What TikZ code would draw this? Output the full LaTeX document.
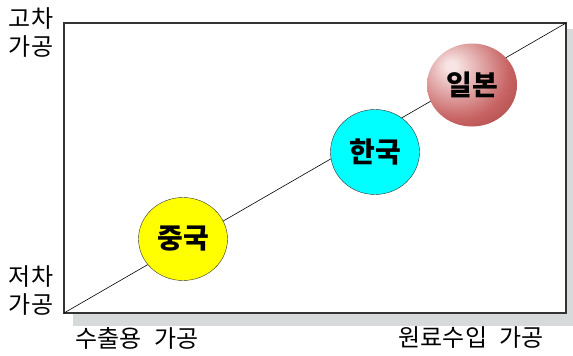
\documentclass[tikz,border=0pt]{standalone}
\usepackage{fontspec}
\newfontfamily\kr{Noto Sans CJK KR}
\usetikzlibrary{shapes.geometric, shadings}

\definecolor{shadowgray}{RGB}{215,218,218}
\definecolor{chinayellow}{RGB}{255,255,0}
\definecolor{koreacyan}{RGB}{0,255,255}
\definecolor{japanhigh}{RGB}{248,228,228}
\definecolor{japanmid}{RGB}{200,100,100}
\definecolor{japanedge}{RGB}{150,45,45}
\pgfdeclareradialshading{japanball}{\pgfpoint{-12bp}{12bp}}{%
  color(0bp)=(japanhigh); color(3bp)=(japanhigh);
  color(28bp)=(japanmid); color(52bp)=(japanedge); color(80bp)=(japanedge)}

\begin{document}
\begin{tikzpicture}[x=1pt, y=-1pt,
  country/.style = {ellipse, draw=black!80, thin, fill=#1,
                    minimum width=89pt, minimum height=83pt, inner sep=0pt,
                    font=\kr\bfseries\fontsize{28}{28}\selectfont},
  ball/.style    = {ellipse, shading=#1,
                    minimum width=90pt, minimum height=83pt, inner sep=0pt,
                    font=\kr\bfseries\fontsize{28}{28}\selectfont},
  axislbl/.style = {font=\kr\fontsize{24}{28}\selectfont,
                    align=center, inner sep=0pt},
  frame/.style   = {draw=black!80, line width=1.2pt, fill=white},
]
\useasboundingbox (0,0) rectangle (573,356);

% ── Frame with shadow ─────────────────────────────────────────────────────────
\fill[shadowgray] (73,29) rectangle (573,326);
\draw[frame] (64,23) rectangle (566,313);

% ── Diagonal ──────────────────────────────────────────────────────────────────
\coordinate (lo) at (64,313);
\coordinate (hi) at (566,23);
\draw[semithick] (lo) -- (hi);

% ── Countries ─────────────────────────────────────────────────────────────────
\node[country=chinayellow]                   (china) at (183,239) {중국};
\node[country=koreacyan, minimum height=85pt] (korea) at (375,152) {한국};
\node[ball=japanball]                        (japan) at (472,85)  {일본};

% ── Axis labels ───────────────────────────────────────────────────────────────
\node[axislbl] (high)   at (31,32)  {고차\\가공};
\node[axislbl] (low)    at (31,290) {저차\\가공};
\node[axislbl] (export) at (137,338) {수출용\hspace{0.5em}가공};
\node[axislbl] (import) at (471,338) {원료수입\hspace{0.5em}가공};

\end{tikzpicture}
\end{document}
